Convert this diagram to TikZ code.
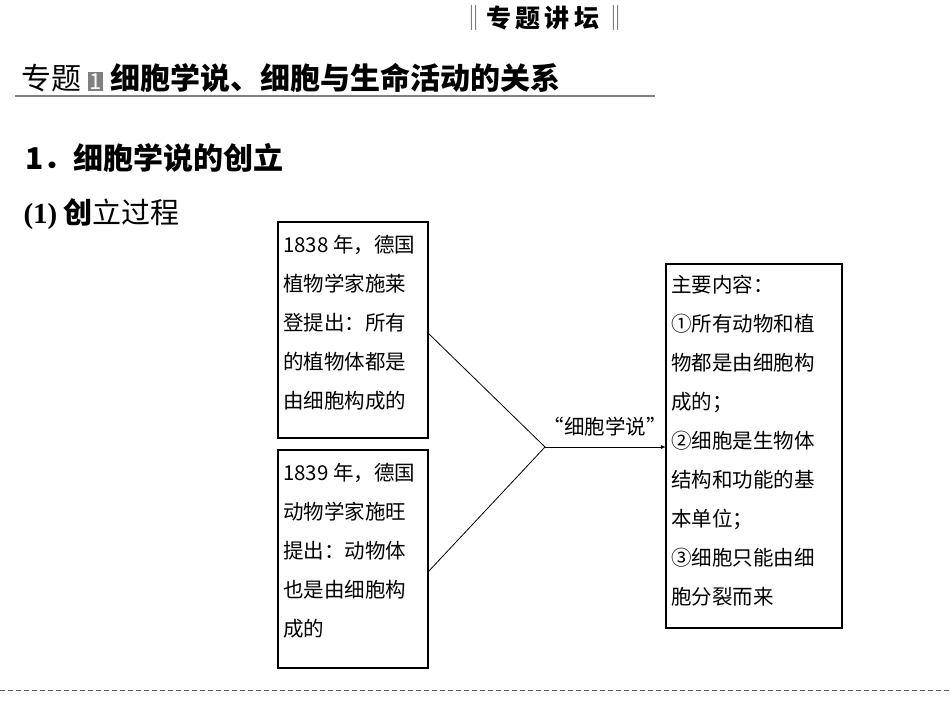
\documentclass[tikz,border=0pt]{standalone}
\usepackage{fontspec}
\setmainfont{Liberation Serif}
\newfontfamily\cjk{Noto Sans CJK SC}
\begin{document}
\begin{tikzpicture}[x=1pt,y=-1pt,
  box/.style={draw,line width=1.2pt,anchor=north west,inner sep=0pt},
  txt/.style={align=left,font=\cjk\fontsize{20.5}{39}\selectfont,anchor=north west,inner sep=0pt}]
\useasboundingbox (0,0) rectangle (950,713);
\node[font=\cjk\fontsize{25}{27}\selectfont\bfseries] (tt) at (545,18) {\textcolor{gray}{‖}专\,题\,讲\,坛\,\textcolor{gray}{‖}};
\node[anchor=west,font=\cjk\fontsize{30}{32}\selectfont\bfseries] (h1) at (18,78) {\mdseries 专题 {\setlength{\fboxsep}{1.5pt}\colorbox{gray}{\textcolor{white}{\fontsize{22}{22}\selectfont 1}}} \bfseries 细胞学说、细胞与生命活动的关系};
\draw[gray,line width=2.5pt] (15,96) -- (655,96);
\node[anchor=west,font=\cjk\fontsize{30}{32}\selectfont\bfseries] (h2) at (22,158) {1．细胞学说的创立};
\node[anchor=west,font=\cjk\fontsize{29}{31}\selectfont] (h3) at (20,214) {\textbf{\rmfamily(1)} \textbf{创}立过程};
\draw[box] (278,222) rectangle (428,438);
\coordinate (b1) at (428,333);
\node[txt] (t1) at (283,235) {1838 年，德国\\植物学家施莱\\登提出：所有\\的植物体都是\\由细胞构成的};
\draw[box] (278,450) rectangle (428,668);
\coordinate (b2) at (428,572);
\node[txt] (t2) at (283,463) {1839 年，德国\\动物学家施旺\\提出：动物体\\也是由细胞构\\成的};
\draw[box] (666,264) rectangle (842,628);
\coordinate (r) at (666,447);
\node[txt] (t3) at (671,275) {主要内容：\\①所有动物和植\\物都是由细胞构\\成的；\\②细胞是生物体\\结构和功能的基\\本单位；\\③细胞只能由细\\胞分裂而来};
\coordinate (m) at (545,447);
\draw[line width=0.8pt] (b1) -- (m) -- (b2);
\draw[line width=0.8pt,-latex] (m) -- (r);
\node[font=\cjk\fontsize{20.5}{22}\selectfont] (lab) at (605,427) {“细胞学说”};
\draw[gray!70!black,line width=0.8pt,dash pattern=on 5pt off 3pt] (0,690) -- (950,690);
\end{tikzpicture}
\end{document}
